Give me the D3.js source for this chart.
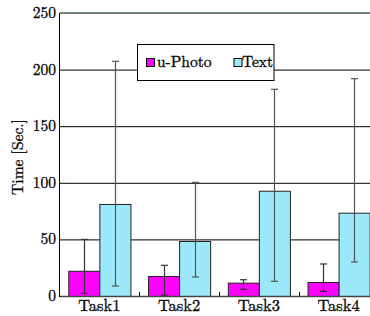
<!DOCTYPE html>
<html><head><meta charset="utf-8">
<script src="https://cdn.jsdelivr.net/npm/d3@7"></script>
<style>body{margin:0;background:#fff}svg{display:block}</style>
</head><body>
<svg id="c" width="370" height="316"></svg>
<script>
const categories = ["Task1","Task2","Task3","Task4"];
const series = ["u-Photo","Text"];
const colors = ["#ff00ff","#9ce9fb"];
const means = [[22.3,17.7,11.8,12.4],[81.3,48.6,93,73.6]];
const lows  = [[2.4,0.6,5.9,4.1],[8.8,16.8,13,30]];
const highs = [[50,27.1,14.4,28.3],[207.3,100.4,182.6,192]];
const yTicks = [0,50,100,150,200,250];
const FONT = "Latin Modern Roman";

const svg = d3.select("#c");
const y = d3.scaleLinear().domain([0,250]).range([296,13]);
const x0 = d3.scaleBand().domain(categories).range([59.5,378.5]).padding(0);
const x1 = d3.scaleBand().domain(series).range([8.8,70.9]).padding(0);
const left = 60, right = 370;

svg.append("g").selectAll("line").data(yTicks.filter(t=>t>0&&t<250)).join("line")
  .attr("x1",left).attr("x2",right).attr("y1",d=>y(d)+0.5).attr("y2",d=>y(d)+0.5)
  .attr("stroke","#000").attr("stroke-width",1);
svg.append("line").attr("x1",left).attr("x2",right).attr("y1",y(250)).attr("y2",y(250))
  .attr("stroke","#738383").attr("stroke-width",2);

series.forEach((s,si)=>{
  svg.append("g").selectAll("rect").data(categories).join("rect")
    .attr("x",d=>x0(d)+x1(s)+0.5).attr("width",x1.bandwidth())
    .attr("y",(d,i)=>y(means[si][i])+0.5).attr("height",(d,i)=>y(0)-y(means[si][i]))
    .attr("fill",colors[si]).attr("stroke","#222").attr("stroke-width",1);
});
series.forEach((s,si)=>{
  const g = svg.append("g").attr("stroke",si===0?"#333":"#555").attr("stroke-width",1.2);
  categories.forEach((c,i)=>{
    const cx = Math.round(x0(c)+x1(s)+x1.bandwidth()/2)+0.5;
    g.append("line").attr("x1",cx).attr("x2",cx).attr("y1",y(highs[si][i])).attr("y2",y(lows[si][i]));
    [highs[si][i],lows[si][i]].forEach(v=>{
      g.append("line").attr("x1",cx-3.5).attr("x2",cx+3.5).attr("y1",y(v)).attr("y2",y(v));
    });
  });
});

svg.append("line").attr("x1",left-0.5).attr("x2",left-0.5).attr("y1",y(250)).attr("y2",y(0)+1).attr("stroke","#000");
svg.append("line").attr("x1",left).attr("x2",right).attr("y1",y(0)+0.5).attr("y2",y(0)+0.5).attr("stroke","#444").attr("stroke-width",1.5);
svg.append("g").selectAll("line").data(categories.slice(1)).join("line")
  .attr("x1",d=>Math.round(x0(d))+0.5).attr("x2",d=>Math.round(x0(d))+0.5)
  .attr("y1",y(0)-4).attr("y2",y(0)).attr("stroke","#000");

const txt = sel => sel.attr("font-family",FONT).attr("fill","#000").attr("stroke","#000").attr("stroke-width",0.3);
svg.append("g").selectAll("text").data(yTicks).join("text").call(txt)
  .attr("x",56).attr("y",d=>y(d)+5).attr("text-anchor","end").attr("font-size",15.5).text(d=>d);
svg.append("g").selectAll("text").data(categories).join("text").call(txt)
  .attr("x",d=>x0(d)+x1.range()[0]+(x1.range()[1]-x1.range()[0])/2).attr("y",311)
  .attr("text-anchor","middle").attr("font-size",16.5).text(d=>d);
svg.append("text").call(txt).attr("transform","translate(23,157) rotate(-90)")
  .attr("text-anchor","middle").attr("font-size",15.5).text("Time [Sec.]");

const lg = svg.append("g");
lg.append("rect").attr("x",137.5).attr("y",44.5).attr("width",136.5).attr("height",36)
  .attr("fill","#fff").attr("stroke","#000").attr("stroke-width",1);
const lx = [146,233.5], tx = [157,242];
series.forEach((s,si)=>{
  lg.append("rect").attr("x",lx[si]+0.5).attr("y",58.5).attr("width",8).attr("height",8)
    .attr("fill",colors[si]).attr("stroke","#000").attr("stroke-width",1);
  lg.append("text").call(txt).attr("x",tx[si]).attr("y",67).attr("font-size",15.5).text(s);
});
</script>
</body></html>
